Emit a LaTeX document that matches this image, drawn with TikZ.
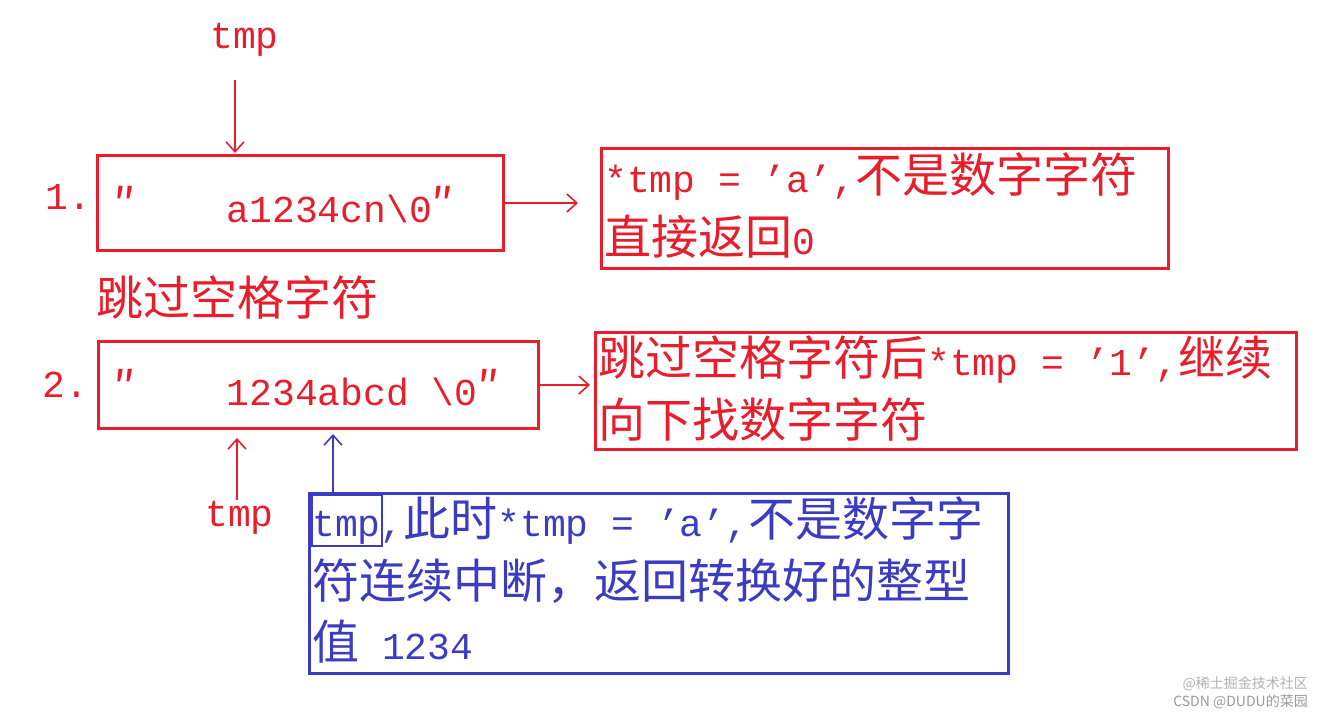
\documentclass[tikz,border=0pt]{standalone}
\usepackage{fontspec}
\setmainfont{Liberation Mono}
\newfontfamily\cjkf{Noto Sans CJK SC}
\newcommand\cjk{\cjkf\fontsize{47}{47}\selectfont}
\usetikzlibrary{arrows.meta}
\definecolor{rd}{RGB}{232,30,45}
\definecolor{bl}{RGB}{60,60,195}
\begin{document}
\begin{tikzpicture}[x=1pt,y=-1pt,
  txt/.style={anchor=west,inner sep=0pt,font=\fontsize{38}{38}\selectfont},
  rbox/.style={draw=rd,line width=3pt},
  bbox/.style={draw=bl,line width=3pt},
  arr/.style={line width=1.6pt,-{Straight Barb[length=10pt,width=18pt]}}]
\useasboundingbox[fill=white] (0,0) rectangle (1325,715);
% top
\node[txt,text=rd] (t1) at (210,40) {tmp};
\coordinate (b1top) at (235,153);
\draw[arr,rd] (235,80) -- (b1top);
\node[txt,text=rd] at (45,197) {1.};
\draw[rbox] (97,155) rectangle (503,250);
\node[txt,text=rd] (s1) at (113,205) {{\cjk ″}\ \ \ \ a1234cn\textbackslash0{\cjk ″}};
\coordinate (a1s) at (503,203); \coordinate (a1e) at (578,203);
\draw[arr,rd] (a1s) -- (a1e);
\draw[rbox] (601,148) rectangle (1168,268);
\node[txt,text=rd] (r1a) at (604,177) {*tmp = 'a',{\cjk 不是数字字符}};
\node[txt,text=rd] (r1b) at (604,237) {{\cjk 直接返回}0};
\node[txt,text=rd] (skip) at (96,298) {\cjk 跳过空格字符};
% second
\node[txt,text=rd] at (42,385) {2.};
\draw[rbox] (98,341) rectangle (538,428);
\node[txt,text=rd] (s2) at (113,388) {{\cjk ″}\ \ \ \ 1234abcd \textbackslash0{\cjk ″}};
\coordinate (a2s) at (538,385); \coordinate (a2e) at (590,385);
\draw[arr,rd] (a2s) -- (a2e);
\draw[rbox] (595,332) rectangle (1296,449);
\node[txt,text=rd] (r2a) at (598,360) {{\cjk 跳过空格字符后}*tmp = '1',{\cjk 继续}};
\node[txt,text=rd] (r2b) at (598,420) {\cjk 向下找数字字符};
\node[txt,text=rd] (t2) at (205,518) {tmp};
\coordinate (t2s) at (237,500); \coordinate (t2e) at (237,438);
\draw[arr,rd] (t2s) -- (t2e);
% blue
\coordinate (bls) at (333,493); \coordinate (ble) at (333,434);
\draw[arr,bl] (bls) -- (ble);
\draw[bbox] (309,493) rectangle (1008,673);
\draw[bbox,line width=2.5pt] (312,495) rectangle (382,546);
\node[txt,text=bl] (bl1) at (312,521) {tmp,{\cjk 此时}*tmp = 'a',{\cjk 不是数字字}};
\node[txt,text=bl] (bl2) at (312,581) {\cjk 符连续中断，返回转换好的整型};
\node[txt,text=bl] (bl3) at (312,642) {{\cjk 值} 1234};
% watermark
\node[anchor=east,inner sep=0pt,text=gray!60,font=\cjkf\fontsize{14}{14}\selectfont] (w1) at (1308,684) {@稀土掘金技术社区};
\node[anchor=east,inner sep=0pt,text=gray!80,font=\cjkf\fontsize{14}{14}\selectfont] (w2) at (1308,702) {CSDN @DUDU的菜园};
\end{tikzpicture}
\end{document}
